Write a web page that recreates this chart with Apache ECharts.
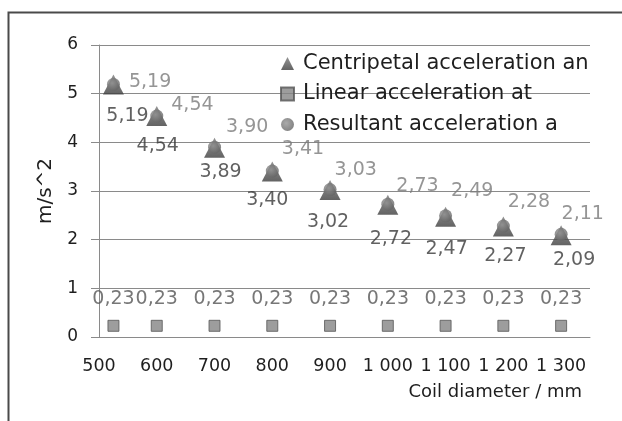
<!DOCTYPE html>
<html>
<head>
<meta charset="utf-8">
<script src="https://cdn.jsdelivr.net/npm/echarts@6/dist/echarts.min.js"></script>
<style>html,body{margin:0;padding:0;background:#fff;}#c{width:622px;height:421px;}</style>
</head>
<body>
<div id="c"></div>
<script>
var diameters = [525, 600, 700, 800, 900, 1000, 1100, 1200, 1300];
var centripetal = [5.19, 4.54, 3.89, 3.40, 3.02, 2.72, 2.47, 2.27, 2.09];
var linear = [0.23, 0.23, 0.23, 0.23, 0.23, 0.23, 0.23, 0.23, 0.23];
var resultant = [5.19, 4.54, 3.90, 3.41, 3.03, 2.73, 2.49, 2.28, 2.11];
var seriesNames = ['Centripetal acceleration an', 'Linear acceleration at', 'Resultant acceleration a'];
var xTicks = [500, 600, 700, 800, 900, 1000, 1100, 1200, 1300];

// label nudges (layout only)
var shiftAn = [[14,2],[1,1],[6,-5],[-5,-1],[-2,3],[3,5],[1,3],[2,0],[13,-5]];
var shiftA = [[9,-2],[8,-11],[5,-20],[3,-22],[-2,-19],[2,-18],[-1,-25],[-2,-24],[-6,-20]];

var FONT = '"DejaVu Sans"';
function fmt(v){ return v.toFixed(2).replace('.', ','); }
function build(vals, shifts){
  return vals.map(function(v, i){
    var item = { value: [diameters[i], v] };
    if (shifts) item.label = { offset: shifts[i] };
    return item;
  });
}
function xfmt(v){
  if (xTicks.indexOf(v) < 0) return '';
  if (v >= 1000) { var r = v % 1000; return Math.floor(v/1000) + ' ' + ('00' + r).slice(-3); }
  return String(v);
}

var chart = echarts.init(document.getElementById('c'));
chart.setOption({
  animation: false,
  backgroundColor: '#fff',
  textStyle: { fontFamily: FONT },
  graphic: [{
    type: 'rect', left: 6, top: 10, silent: true,
    shape: { width: 700, height: 500 },
    style: { fill: 'none', stroke: '#4a4a4a', lineWidth: 2 }
  }],
  grid: { left: 99, right: 32, top: 45, bottom: 84 },
  legend: {
    orient: 'vertical', left: 275, top: 48,
    itemWidth: 13, itemHeight: 13, itemGap: 9.5,
    textStyle: { fontFamily: FONT, fontSize: 21, color: '#1e1e1e', padding: [0,0,0,4] },
    data: [
      { name: seriesNames[0], icon: 'triangle' },
      { name: seriesNames[1], icon: 'rect' },
      { name: seriesNames[2], icon: 'circle' }
    ]
  },
  xAxis: {
    type: 'value', min: 500, max: 1350, interval: 100,
    name: 'Coil diameter / mm', nameLocation: 'end', nameGap: -8,
    nameTextStyle: { fontFamily: FONT, fontSize: 18, color: '#1e1e1e', align: 'right', verticalAlign: 'top', padding: [46,0,0,0] },
    axisLine: { show: true, lineStyle: { color: '#8a8a8a', width: 1 } },
    axisTick: { show: false },
    splitLine: { show: false },
    axisLabel: { formatter: xfmt, margin: 20, fontFamily: FONT, fontSize: 17.5, color: '#1e1e1e' }
  },
  yAxis: {
    type: 'value', min: 0, max: 6, interval: 1,
    name: 'm/s^2', nameLocation: 'middle', nameGap: 43, nameRotate: 90,
    nameTextStyle: { fontFamily: FONT, fontSize: 20, color: '#1e1e1e' },
    axisLine: { show: true, lineStyle: { color: '#8a8a8a', width: 1 } },
    axisTick: { show: true, length: 8, lineStyle: { color: '#8a8a8a' } },
    splitLine: { show: true, lineStyle: { color: '#8a8a8a', width: 1 } },
    axisLabel: { margin: 21, fontFamily: FONT, fontSize: 17, color: '#1e1e1e' }
  },
  series: [
    {
      name: seriesNames[0], type: 'scatter', symbol: 'triangle', symbolSize: [21, 20],
      itemStyle: { color: new echarts.graphic.LinearGradient(0,0,0,1,[{offset:0,color:'#7a7a7a'},{offset:1,color:'#3c3c3c'}]) },
      label: { show: true, position: 'bottom', distance: 10, fontFamily: FONT, fontSize: 19, color: '#3a3a3a',
               formatter: function(p){ return fmt(p.value[1]); } },
      data: build(centripetal, shiftAn), z: 2
    },
    {
      name: seriesNames[1], type: 'scatter', symbol: 'rect', symbolSize: 11,
      itemStyle: { color: '#858585', borderColor: '#555', borderWidth: 1 },
      label: { show: true, position: 'top', distance: 11, fontFamily: FONT, fontSize: 19, color: '#555555',
               formatter: function(p){ return fmt(p.value[1]); } },
      data: build(linear), z: 3
    },
    {
      name: seriesNames[2], type: 'scatter', symbol: 'circle', symbolSize: 13,
      itemStyle: { color: new echarts.graphic.RadialGradient(0.4,0.4,0.7,[{offset:0,color:'#959595'},{offset:1,color:'#5f5f5f'}]) },
      label: { show: true, position: 'right', distance: 0, fontFamily: FONT, fontSize: 19, color: '#7a7a7a',
               formatter: function(p){ return fmt(p.value[1]); } },
      data: build(resultant, shiftA), z: 4
    }
  ]
});
</script>
</body>
</html>
